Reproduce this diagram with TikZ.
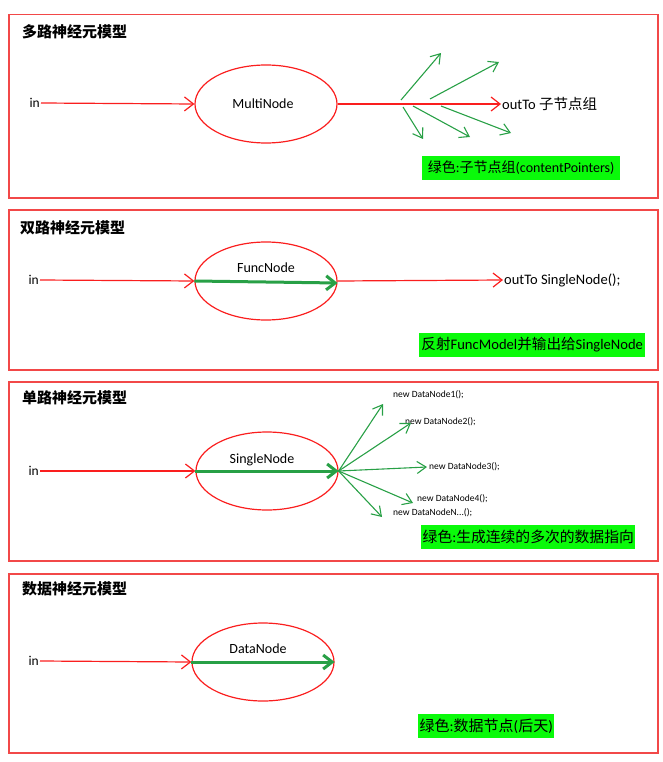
\documentclass[tikz,border=0pt]{standalone}
\usepackage{fontspec}
\setmainfont{Carlito}
\newfontfamily\cjk{Noto Sans CJK SC}
\usetikzlibrary{arrows.meta,shapes.geometric}
\definecolor{boxred}{RGB}{242,72,72}
\definecolor{lred}{RGB}{250,30,30}
\definecolor{agreen}{RGB}{40,160,70}
\definecolor{lblgreen}{RGB}{10,250,10}
\begin{document}
\begin{tikzpicture}[x=1pt,y=-1pt,
  frame/.style={draw=boxred, line width=1.5pt},
  titletext/.style={anchor=west, inner sep=0pt, font=\cjk\bfseries\fontsize{15}{15}\selectfont},
  neuron/.style={draw=lred, ellipse, line width=1.2pt, minimum width=142pt, minimum height=78pt, inner sep=0pt},
  intext/.style={anchor=east, inner sep=1pt, font=\fontsize{13.5}{13.5}\selectfont},
  plain/.style={inner sep=1pt, font=\fontsize{14}{14}\selectfont},
  outtext/.style={anchor=west, inner sep=1pt, font=\fontsize{14.5}{14.5}\selectfont},
  smalltext/.style={anchor=west, inner sep=0pt, font=\fontsize{9.5}{9.5}\selectfont},
  greenlabel/.style={anchor=west, fill=lblgreen, inner sep=1.5pt, minimum height=24pt},
  redarrow/.style={draw=lred, line width=1.2pt, -{Straight Barb[length=9pt,width=14pt]}},
  thinG/.style={draw=agreen, line width=1.1pt, -{Straight Barb[length=9pt,width=12pt]}},
  thickG/.style={draw=agreen, line width=3pt, -{Straight Barb[length=9pt,width=14pt]}}
]
\useasboundingbox (0,0) rectangle (663,762);

% ---------- Box 1 ----------
\node[frame, minimum width=649pt, minimum height=183pt, anchor=north west, inner sep=0] (b1) at (8,14) {};
\node[titletext] (t1) at (22,32) {多路神经元模型};
\node[neuron] (n1) at (266,104) {};
\node[plain] (l1) at (263,104) {MultiNode};
\node[intext] (in1) at (41,103) {in};
\node[outtext] (out1) at (501,104) {outTo {\cjk 子节点组}};
\draw[redarrow] (in1.east) -- (n1.west);
\draw[redarrow] (n1.east) -- (out1.west);
\coordinate (g1a) at (401,100); \coordinate (g1A) at (441,53);
\coordinate (g1b) at (430,99);  \coordinate (g1B) at (499,62);
\coordinate (g1c) at (403,107); \coordinate (g1C) at (423,139);
\coordinate (g1d) at (413,106); \coordinate (g1D) at (470,137);
\coordinate (g1e) at (441,106); \coordinate (g1E) at (511,133);
\draw[thinG] (g1a) -- (g1A);
\draw[thinG] (g1b) -- (g1B);
\draw[thinG] (g1c) -- (g1C);
\draw[thinG] (g1d) -- (g1D);
\draw[thinG] (g1e) -- (g1E);
\node[greenlabel, minimum width=198pt, font=\fontsize{14}{14}\selectfont] (g1) at (422,168) {{\cjk 绿色}:{\cjk 子节点组}(contentPointers)};

% ---------- Box 2 ----------
\node[frame, minimum width=649pt, minimum height=160pt, anchor=north west, inner sep=0] (b2) at (8,209) {};
\node[titletext] (t2) at (20,228) {双路神经元模型};
\node[neuron] (n2) at (266,281) {};
\node[plain] (l2) at (266,268) {FuncNode};
\node[intext] (in2) at (40,280) {in};
\node[outtext] (out2) at (503,280) {outTo SingleNode();};
\draw[redarrow] (in2.east) -- (n2.west);
\draw[redarrow] (n2.east) -- (out2.west);
\draw[thickG] (n2.west) -- ([yshift=-2pt]n2.east);
\node[greenlabel, minimum width=226pt, font=\fontsize{14.6}{14.6}\selectfont] (g2) at (419,345) {{\cjk 反射}FuncModel{\cjk 并输出给}SingleNode};

% ---------- Box 3 ----------
\node[frame, minimum width=649pt, minimum height=179pt, anchor=north west, inner sep=0] (b3) at (8,381) {};
\node[titletext] (t3) at (22,398) {单路神经元模型};
\node[neuron] (n3) at (267,471) {};
\node[plain] (l3) at (262,460) {SingleNode};
\node[intext] (in3) at (40,471) {in};
\draw[redarrow] (in3.east) -- (n3.west);
\draw[thickG] (n3.west) -- (n3.east);
\node[smalltext] (d1) at (393,395) {new DataNode1();};
\node[smalltext] (d2) at (405,422) {new DataNode2();};
\node[smalltext] (d3) at (429,467) {new DataNode3();};
\node[smalltext] (d4) at (417,499) {new DataNode4();};
\node[smalltext] (d5) at (393,513) {new DataNodeN...();};
\coordinate (f1) at (383,404);
\coordinate (f2) at (411,423);
\coordinate (f3) at (427,467);
\coordinate (f4) at (413,503);
\coordinate (f5) at (382,517);
\draw[thinG] (n3.east) -- (f1);
\draw[thinG] (n3.east) -- (f2);
\draw[thinG] (n3.east) -- (f3);
\draw[thinG] (n3.east) -- (f4);
\draw[thinG] (n3.east) -- (f5);
\node[greenlabel, minimum width=212pt, font=\fontsize{14.8}{14.8}\selectfont] (g3) at (421,537) {{\cjk 绿色}:{\cjk 生成连续的多次的数据指向}};

% ---------- Box 4 ----------
\node[frame, minimum width=649pt, minimum height=179pt, anchor=north west, inner sep=0] (b4) at (8,573) {};
\node[titletext] (t4) at (22,589) {数据神经元模型};
\node[neuron] (n4) at (263,662) {};
\node[plain] (l4) at (258,649) {DataNode};
\node[intext] (in4) at (40,661) {in};
\draw[redarrow] (in4.east) -- (n4.west);
\draw[thickG] (n4.west) -- (n4.east);
\node[greenlabel, minimum width=134pt, font=\fontsize{15}{15}\selectfont] (g4) at (418,726) {{\cjk 绿色}:{\cjk 数据节点}({\cjk 后天})};
\end{tikzpicture}
\end{document}
